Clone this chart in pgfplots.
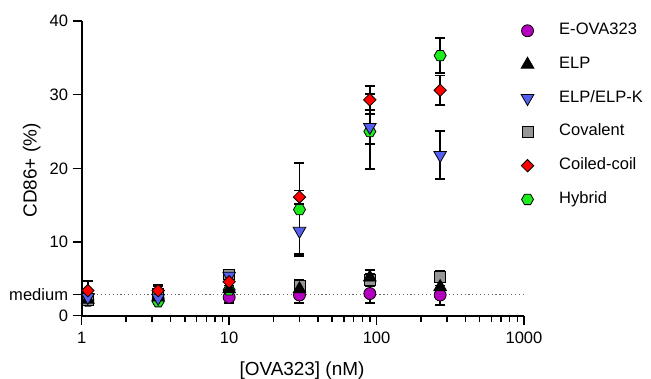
\documentclass[border=0pt]{standalone}
\usepackage{fontspec}
\setmainfont{Liberation Sans}
\usepackage{pgfplots}
\usepackage{pgfplotstable}
\pgfplotsset{compat=1.18}
\usetikzlibrary{plotmarks}
\definecolor{cpurple}{RGB}{180,0,190}
\definecolor{cblue}{RGB}{85,95,240}
\definecolor{cgray}{RGB}{150,150,150}
\definecolor{cred}{RGB}{255,0,0}
\definecolor{cgreen}{RGB}{30,235,30}
\pgfdeclareplotmark{hexagon*}{%
  \pgfpathmoveto{\pgfpointpolar{0}{\pgfplotmarksize}}%
  \pgfpathlineto{\pgfpointpolar{60}{\pgfplotmarksize}}%
  \pgfpathlineto{\pgfpointpolar{120}{\pgfplotmarksize}}%
  \pgfpathlineto{\pgfpointpolar{180}{\pgfplotmarksize}}%
  \pgfpathlineto{\pgfpointpolar{240}{\pgfplotmarksize}}%
  \pgfpathlineto{\pgfpointpolar{300}{\pgfplotmarksize}}%
  \pgfpathclose
  \pgfusepathqfillstroke}
\pgfplotsset{
  seova/.style={mark=*, mark size=4.5pt, mark options={fill=cpurple, draw=black, line width=0.6pt}},
  selp/.style={mark=triangle*, mark size=5.5pt, mark options={fill=black, draw=black, line width=0.6pt}},
  selpk/.style={mark=triangle*, mark size=5.5pt, mark options={rotate=180, fill=cblue, draw=black, line width=0.6pt}},
  scov/.style={mark=square*, mark size=4.1pt, mark options={fill=cgray, draw=black, line width=0.6pt}},
  scoil/.style={mark=square*, mark size=3.3pt, mark options={rotate=45, fill=cred, draw=black, line width=0.6pt}},
  shyb/.style={mark=hexagon*, mark size=4.5pt, mark options={fill=cgreen, draw=black, line width=0.6pt}},
}

\pgfplotstableread{
x y e
1.1 2.2 0.5
3.3 2.3 0.5
10 2.5 0.8
30 2.8 1.1
90 3.0 1.3
270 2.8 1.3
}\eova
\pgfplotstableread{
x y e
1.1 2.2 0.4
3.3 2.5 0.5
10 3.6 1.0
30 3.6 0.6
90 5.2 1.0
270 3.9 1.0
}\elp
\pgfplotstableread{
x y e
1.1 2.5 0.5
3.3 2.4 0.5
10 5.4 0.6
30 11.5 3.1
90 25.6 2.3
270 21.8 3.3
}\elpk
\pgfplotstableread{
x y e
1.1 2.2 0.7
3.3 3.0 1.0
10 5.6 0.6
30 4.0 0.8
90 4.8 0.8
270 5.3 0.8
}\cov
\pgfplotstableread{
x y e
1.1 3.4 1.3
3.3 3.4 0.8
10 4.6 0.8
30 16.1 0.9
90 29.3 1.9
270 30.6 2.0
}\coil
\pgfplotstableread{
x y e
1.1 2.0 0.4
3.3 1.9 0.3
10 3.5 0.6
30 14.4 6.3
90 25.0 5.1
270 35.3 2.4
}\hyb

\begin{document}
\begin{tikzpicture}
\path[use as bounding box] (0,0) rectangle (488.25pt,284.25pt);
\begin{axis}[
  at={(61.3pt,47.5pt)}, anchor=south west,
  scale only axis, width=331.7pt, height=221pt,
  xmode=log, xmin=1, xmax=1000, ymin=0, ymax=40,
  axis x line*=bottom, axis y line*=left,
  axis line style={-, line width=1.3pt},
  xtick={1,10,100,1000}, xticklabels={1,10,100,1000},
  ytick={0,10,20,30,40}, yticklabels={0,10,20,30,40},
  extra y ticks={2.85}, extra y tick labels={medium},
  tick align=outside,
  major tick length=6.75pt, minor tick length=4.5pt,
  tick style={black, line width=1.1pt},
  /pgf/number format/assume math mode=true,
  tick label style={font=\fontsize{12.4}{14}\selectfont},
  xticklabel style={yshift=-2pt},
  label style={font=\fontsize{14.2}{16}\selectfont},
  xlabel={[OVA323] (nM)}, ylabel={CD86+ (\%)},
  xlabel style={at={(axis description cs:0.498,-0.186)}, anchor=center},
  ylabel style={at={(axis description cs:-0.113,0.493)}, anchor=center},
  clip=false,
  legend cell align=left,
  legend style={draw=none, fill=none, at={(0.984,1.013)}, anchor=north west,
    font=\fontsize{12.4}{14}\selectfont, row sep=9.3pt,
    /tikz/every odd column/.append style={column sep=17pt},
    nodes={text height=9pt, text depth=3pt, inner sep=2pt}},
  every axis plot/.append style={only marks,
    error bars/y dir=both, error bars/y explicit,
    error bars/error bar style={line width=1.4pt, black},
    error bars/error mark=-,
    error bars/error mark options={rotate=90, line width=1.4pt, black, mark size=3.75pt}},
]
% drawing order (back to front)
\addplot[seova, forget plot] table[x=x, y=y, y error=e]{\eova};
\addplot[shyb, forget plot] table[x=x, y=y, y error=e]{\hyb};
\addplot[scov, forget plot] table[x=x, y=y, y error=e]{\cov};
\addplot[selp, forget plot] table[x=x, y=y, y error=e]{\elp};
\addplot[selpk, forget plot] table[x=x, y=y, y error=e]{\elpk};
\addplot[scoil, forget plot] table[x=x, y=y, y error=e]{\coil};
\addplot[sharp plot, dotted, line width=0.9pt, black!60, mark=none, forget plot, error bars/y dir=none] coordinates {(1,2.85) (1000,2.85)};
% legend
\addlegendimage{only marks, seova}\addlegendentry{E-OVA323}
\addlegendimage{only marks, selp}\addlegendentry{ELP}
\addlegendimage{only marks, selpk}\addlegendentry{ELP/ELP-K}
\addlegendimage{only marks, scov}\addlegendentry{Covalent}
\addlegendimage{only marks, scoil}\addlegendentry{Coiled-coil}
\addlegendimage{only marks, shyb}\addlegendentry{Hybrid}
\end{axis}
\end{tikzpicture}
\end{document}
